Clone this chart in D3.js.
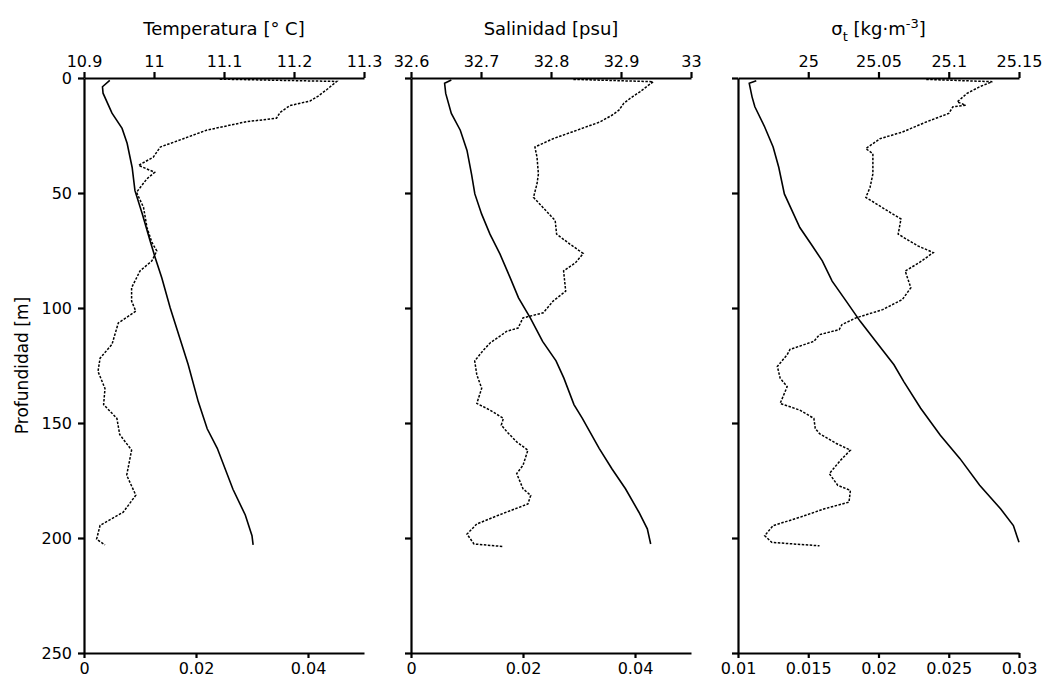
<!DOCTYPE html>
<html>
<head>
<meta charset="utf-8">
<script src="https://cdn.jsdelivr.net/npm/d3@7"></script>
<style>
	body { margin: 0; background: #fff; }
	svg { font-family: "DejaVu Sans", "Liberation Sans", Arial, sans-serif; }
	.axis path, .axis line { stroke: #000; stroke-width: 2.2; }
	.axis text { font-size: 16px; fill: #000; font-family: "DejaVu Sans", sans-serif; }
	.mean { fill: none; stroke: #000; stroke-width: 1.5; stroke-dasharray: 2.5,1.5; }
	.std { fill: none; stroke: #000; stroke-width: 1.6; }
</style>
</head>
<body>
<svg id="svg_profiles" width="1047" height="686"></svg>
<script>
// [depth (m), value]
var tempMean = [[0.5,11.094],[1.5,11.261],[5,11.247],[8,11.234],[10,11.223],[12,11.194],[15,11.18],[17.5,11.175],[19,11.132],[22.7,11.075],[26.4,11.042],[30,11.009],[34.4,10.999],[38,10.978],[41,11.001],[43.8,10.99],[49.7,10.975],[56.2,10.985],[65,10.99],[71.5,10.997],[75.2,11.004],[79.5,10.997],[83.9,10.98],[91.2,10.968],[97,10.968],[101.4,10.974],[106.5,10.949],[115.8,10.94],[121.8,10.923],[127.6,10.92],[135,10.93],[142,10.928],[148,10.947],[155,10.951],[161.8,10.968],[172.7,10.961],[181.4,10.974],[188.8,10.956],[194.5,10.923],[200.5,10.918],[203,10.93]];
var tempStd = [[1,0.0046],[3.8,0.0033],[6.6,0.0034],[15.3,0.005],[21.9,0.0068],[28.4,0.0077],[38.9,0.0086],[49,0.0091],[59,0.0104],[70.8,0.0118],[78,0.0127],[87,0.0139],[100,0.0154],[113,0.0171],[124.6,0.0186],[140.7,0.0204],[152.5,0.022],[161,0.0238],[178.8,0.0266],[190,0.0288],[199,0.03],[203,0.0302]];

var salMean = [[0.6,32.832],[1.6,32.946],[6,32.927],[8.9,32.913],[11,32.904],[14,32.897],[16.2,32.887],[19.1,32.87],[22.7,32.837],[26.4,32.803],[30,32.777],[34.4,32.78],[41.7,32.782],[46,32.78],[51.9,32.775],[62,32.806],[67.9,32.808],[72.2,32.827],[76.3,32.846],[80.3,32.835],[83.9,32.818],[92.7,32.821],[97,32.803],[102.1,32.789],[104.3,32.76],[108.7,32.753],[110.1,32.737],[115.2,32.713],[118.5,32.703],[123,32.691],[129,32.694],[134.9,32.701],[141.5,32.694],[144.4,32.713],[148,32.732],[150.9,32.729],[153.8,32.737],[158.2,32.751],[161.8,32.767],[168.4,32.76],[172,32.751],[178.6,32.76],[181.5,32.771],[185.2,32.767],[190.2,32.724],[193.9,32.694],[198.3,32.68],[202.6,32.69],[203.7,32.731]];
var salStd = [[0.9,0.0072],[2.3,0.006],[6.7,0.0062],[15.4,0.0072],[22.7,0.0088],[31.5,0.01],[41.7,0.0108],[50.4,0.0114],[59.1,0.0126],[67.9,0.0141],[76.6,0.0159],[86.8,0.0177],[95.6,0.0192],[104.3,0.0213],[114.5,0.0235],[123,0.0259],[130.5,0.0273],[142,0.0291],[148,0.0306],[161,0.0336],[170,0.0359],[178.6,0.0383],[188.8,0.0407],[196,0.0422],[202.6,0.0428]];

var sigmaMean = [[0.6,25.084],[1.6,25.131],[3.8,25.122],[6.7,25.113],[10.4,25.106],[11.8,25.112],[12.5,25.103],[15.4,25.1],[19.1,25.084],[23.5,25.067],[26.4,25.051],[30.7,25.041],[32.9,25.046],[41.7,25.046],[47.5,25.044],[51.9,25.041],[59.1,25.06],[61.3,25.066],[67.9,25.064],[73,25.078],[75.9,25.089],[80.3,25.079],[83.9,25.069],[91.2,25.073],[96.3,25.067],[100.7,25.053],[104.3,25.034],[107.2,25.024],[109.4,25.022],[111.6,25.008],[114.5,25.004],[118,24.987],[120.3,24.985],[125.4,24.978],[130.5,24.98],[134.2,24.985],[141.5,24.98],[144.4,24.994],[148,25.004],[152.4,25.005],[154.6,25.008],[158.9,25.02],[161.8,25.03],[166.2,25.023],[172,25.015],[177.1,25.021],[179.3,25.03],[184.4,25.029],[187.4,25.011],[191,24.994],[194.6,24.975],[199,24.969],[201.9,24.974],[203.4,25.008]];
var sigmaStd = [[1.2,0.0113],[2.3,0.0108],[8.2,0.011],[12.5,0.0112],[21.3,0.0119],[30,0.0125],[38.8,0.0129],[50.4,0.0133],[65,0.0144],[72.2,0.0152],[79.5,0.016],[88.3,0.0167],[97,0.0177],[105.8,0.0187],[114.5,0.0198],[124.7,0.0211],[132,0.0218],[143.6,0.023],[155.3,0.0244],[165.5,0.0258],[177.1,0.0272],[187.4,0.0287],[194.6,0.0296],[201.9,0.03]];

var depthTicks = [0, 50, 100, 150, 200, 250];
var tempTopTicks = [10.9, 11, 11.1, 11.2, 11.3];
var salTopTicks = [32.6, 32.7, 32.8, 32.9, 33];
var sigmaTopTicks = [25, 25.05, 25.1, 25.15];
var stdTicksA = [0, 0.02, 0.04];
var stdTicksB = [0.01, 0.015, 0.02, 0.025, 0.03];

var panels = [
	{ left: 84, right: 364, top: [10.9, 11.3], topTicks: tempTopTicks, bottom: [0, 0.05], bottomTicks: stdTicksA, mean: tempMean, std: tempStd, title: "temp" },
	{ left: 411, right: 691, top: [32.6, 33], topTicks: salTopTicks, bottom: [0, 0.05], bottomTicks: stdTicksA, mean: salMean, std: salStd, title: "sal" },
	{ left: 738, right: 1019, top: [24.95, 25.15], topTicks: sigmaTopTicks, bottom: [0.01, 0.03], bottomTicks: stdTicksB, mean: sigmaMean, std: sigmaStd, title: "sigma" }
];

var svg = d3.select("#svg_profiles");
var yTop = 78, yBottom = 653;
var scaleY = d3.scaleLinear().domain([0, 250]).range([yTop, yBottom]);
var fmt = function(d) { return String(+d.toFixed(3)); };

panels.forEach(function(p, i) {
	var g = svg.append("g");
	var xTop = d3.scaleLinear().domain(p.top).range([p.left, p.right]);
	var xBottom = d3.scaleLinear().domain(p.bottom).range([p.left, p.right]);

	// profiles
	var lineStd = d3.line()
		.x(function(d) { return xBottom(d[1]); })
		.y(function(d) { return scaleY(d[0]); });
	var lineMean = d3.line()
		.x(function(d) { return xTop(d[1]); })
		.y(function(d) { return scaleY(d[0]); });
	g.append("path").attr("class", "std").attr("d", lineStd(p.std));
	g.append("path").attr("class", "mean").attr("d", lineMean(p.mean));

	// axes
	g.append("g").attr("class", "axis top")
		.attr("transform", "translate(0," + yTop + ")")
		.call(d3.axisTop(xTop).tickValues(p.topTicks).tickFormat(fmt).tickSizeInner(6).tickSizeOuter(0).tickPadding(5));
	g.append("g").attr("class", "axis bottom")
		.attr("transform", "translate(0," + yBottom + ")")
		.call(d3.axisBottom(xBottom).tickValues(p.bottomTicks).tickFormat(fmt).tickSizeInner(5).tickSizeOuter(0).tickPadding(5));
	g.append("g").attr("class", "axis left")
		.attr("transform", "translate(" + p.left + ",0)")
		.call(d3.axisLeft(scaleY).tickValues(depthTicks).tickFormat(i == 0 ? fmt : "").tickSizeInner(6).tickSizeOuter(0).tickPadding(6));

	// title
	var t = svg.append("text")
		.attr("x", (p.left + p.right) / 2)
		.attr("y", 35)
		.attr("text-anchor", "middle")
		.attr("font-size", 18);
	if (p.title == "temp") {
		t.text("Temperatura [\u00b0 C]");
	} else if (p.title == "sal") {
		t.text("Salinidad [psu]");
	} else {
		t.append("tspan").text("\u03c3");
		t.append("tspan").attr("dy", 6).attr("font-size", 13).text("t");
		t.append("tspan").attr("dy", -6).text(" [kg\u00b7m");
		t.append("tspan").attr("dy", -7).attr("font-size", 13).text("-3");
		t.append("tspan").attr("dy", 7).text("]");
	}
});

svg.append("text")
	.attr("transform", "translate(28," + ((yTop + yBottom) / 2) + ") rotate(-90)")
	.attr("text-anchor", "middle")
	.attr("font-size", 17)
	.text("Profundidad [m]");
</script>
</body>
</html>
